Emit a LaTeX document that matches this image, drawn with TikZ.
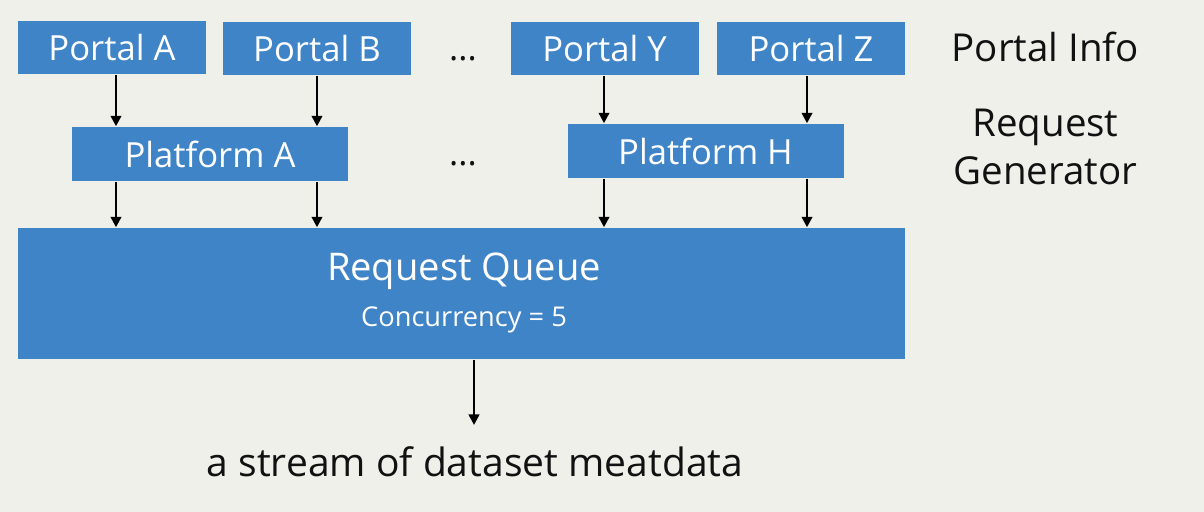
\documentclass[tikz,border=0pt]{standalone}
\usepackage{fontspec}
\setmainfont{Open Sans}
\usetikzlibrary{arrows.meta}

\definecolor{boxblue}{RGB}{63,132,198}
\definecolor{pagebg}{RGB}{240,240,235}
\definecolor{ink}{RGB}{17,17,17}

\tikzset{
	portal/.style={fill=boxblue, text=white, inner sep=0pt, minimum width=1.88cm, minimum height=0.53cm, font=\fontsize{9.85}{12}\selectfont},
	platform/.style={portal, minimum width=2.76cm, minimum height=0.54cm},
	queuebox/.style={fill=boxblue, inner sep=0pt, minimum width=8.87cm, minimum height=1.31cm},
	sidetext/.style={text=ink, inner sep=0pt, font=\fontsize{10.95}{13.66}\selectfont},
	flow/.style={-{Triangle[length=1.05mm,width=1.05mm]}, line width=0.7pt, draw=black},
}

\begin{document}
\begin{tikzpicture}

	\fill[pagebg] (0,0) rectangle (12.04,5.12);

	\node (portal_a) at (1.12,4.645) [portal] {Portal A};
	\node (portal_b) at (3.17,4.635) [portal] {Portal B};
	\node (portal_y) at (6.045,4.635) [portal] {Portal Y};
	\node (portal_z) at (8.11,4.635) [portal] {Portal Z};
	\node (platform_a) at (2.10,3.58) [platform] {Platform A};
	\node (platform_h) at (7.055,3.61) [platform] {Platform H};
	\node (queue) at (4.615,2.185) [queuebox] {};
	\node (queue_t) at (4.64,2.31) [anchor=base, sidetext, text=white, font=\fontsize{10.85}{13}\selectfont] {Request Queue};
	\node (queue_c) at (4.64,1.85) [anchor=base, sidetext, text=white, font=\fontsize{7.75}{9}\selectfont] {Concurrency = 5};
	\node (dots_1) at (4.63,4.51) [anchor=base, sidetext, font=\fontsize{9.85}{12}\selectfont] {...};
	\node (dots_2) at (4.63,3.46) [anchor=base, sidetext, font=\fontsize{9.85}{12}\selectfont] {...};
	\node (info) at (10.455,4.50) [anchor=base, sidetext] {Portal Info};
	\node (gen) at (10.455,3.27) [anchor=base, sidetext, align=center] {Request\\Generator};
	\node (stream) at (4.75,0.35) [anchor=base, sidetext, font=\fontsize{11.1}{13}\selectfont] {a stream of dataset meatdata};

	\coordinate (col_a) at (1.16,0);
	\coordinate (col_b) at (3.17,0);
	\coordinate (col_y) at (6.04,0);
	\coordinate (col_z) at (8.07,0);
	\coordinate (out_end) at (4.74,0.87);

	\draw[flow] (portal_a.south -| col_a) -- (platform_a.north -| col_a);
	\draw[flow] (portal_b.south -| col_b) -- (platform_a.north -| col_b);
	\draw[flow] (portal_y.south -| col_y) -- (platform_h.north -| col_y);
	\draw[flow] (portal_z.south -| col_z) -- (platform_h.north -| col_z);
	\draw[flow] (platform_a.south -| col_a) -- (queue.north -| col_a);
	\draw[flow] (platform_a.south -| col_b) -- (queue.north -| col_b);
	\draw[flow] (platform_h.south -| col_y) -- (queue.north -| col_y);
	\draw[flow] (platform_h.south -| col_z) -- (queue.north -| col_z);
	\draw[flow] (queue.south -| out_end) -- (out_end);

\end{tikzpicture}
\end{document}
